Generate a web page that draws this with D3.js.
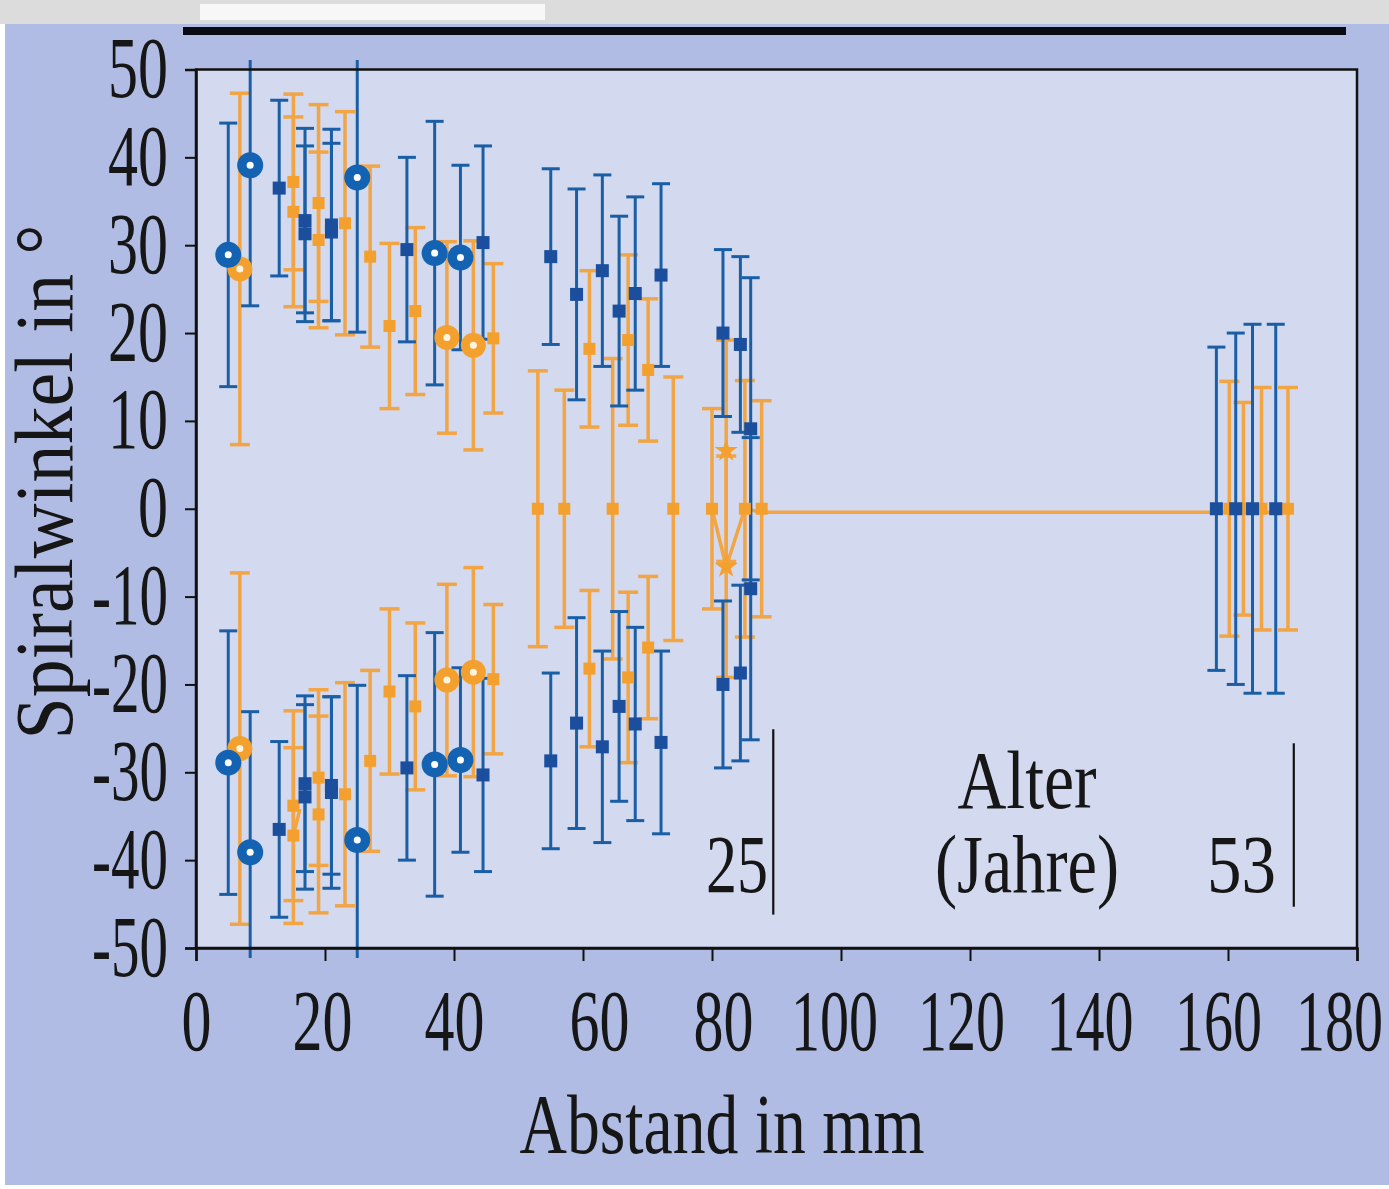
<!DOCTYPE html>
<html><head><meta charset="utf-8">
<script src="https://cdn.jsdelivr.net/npm/d3@7"></script>
<style>html,body{margin:0;padding:0;background:#fff;}svg{display:block;}</style>
</head><body>
<script>
// ---------- DATA (x in mm, y in degrees, err = half error bar) ----------
const blueCircles = [
  [5.0, 28.9, 15], [8.4, 39.1, 16], [25.0, 37.7, 17.6], [37.0, 29.1, 15], [41.0, 28.6, 10.5],
  [5.0, -28.9, 15], [8.4, -39.1, 16], [25.0, -37.7, 17.6], [37.0, -29.1, 15], [41.0, -28.6, 10.5]
];
const orangeCircles = [
  [6.8, 27.3, 20], [38.9, 19.5, 10.9], [43.0, 18.6, 11.9],
  [6.8, -27.3, 20], [38.9, -19.5, 10.9], [43.0, -18.6, 11.9]
];
const blueSquares = [
  [12.9, 36.5, 10], [16.9, 32.8, 10.5], [16.9, 31.3, 10], [21.0, 32.3, 10.9], [21.0, 31.5, 10.1],
  [32.7, 29.5, 10.5], [44.5, 30.3, 11], [55.0, 28.7, 10], [59.0, 24.4, 12], [63.0, 27.1, 10.9],
  [65.6, 22.5, 10.8], [68.1, 24.5, 11], [72.1, 26.6, 10.4], [81.7, 20.0, 9.5], [84.4, 18.7, 10],
  [86.0, 9.1, 17.2],
  [12.9, -36.5, 10], [16.9, -32.8, 10.5], [16.9, -31.3, 10], [21.0, -32.3, 10.9], [21.0, -31.5, 10.1],
  [32.7, -29.5, 10.5], [44.5, -30.3, 11], [55.0, -28.7, 10], [59.0, -24.4, 12], [63.0, -27.1, 10.9],
  [65.6, -22.5, 10.8], [68.1, -24.5, 11], [72.1, -26.6, 10.4], [81.7, -20.0, 9.5], [84.4, -18.7, 10],
  [86.0, -9.1, 17.2],
  [158.2, 0, 18.4], [161.2, 0, 20], [163.8, 0, 21], [167.4, 0, 21]
];
const orangeSquares = [
  [15.1, 37.2, 10], [15.1, 33.8, 10.8], [19.0, 34.8, 11.2], [19.0, 30.6, 10], [23.1, 32.5, 12.7],
  [27.0, 28.7, 10.3], [30.0, 20.8, 9.4], [34.0, 22.5, 9.5], [46.1, 19.4, 8.5], [61.0, 18.2, 8.9],
  [67.0, 19.2, 9.7], [70.1, 15.8, 8.1],
  [15.1, -37.2, 10], [15.1, -33.8, 10.8], [19.0, -34.8, 11.2], [19.0, -30.6, 10], [23.1, -32.5, 12.7],
  [27.0, -28.7, 10.3], [30.0, -20.8, 9.4], [34.0, -22.5, 9.5], [46.1, -19.4, 8.5], [61.0, -18.2, 8.9],
  [67.0, -19.2, 9.7], [70.1, -15.8, 8.1],
  [53.0, 0, 15.7], [57.1, 0, 13.5], [64.6, 0, 17.1], [74.0, 0, 15], [80.0, 0, 11.4],
  [85.1, 0, 14.6], [87.7, 0, 12.3],
  [160.2, 0, 14.5], [162.4, 0, 12.1], [165.2, 0, 13.8], [169.3, 0, 13.8]
];
const orangeStars = [[82.2, 6.6, 12.6], [82.2, -6.6, 12.6]];
const orangeLineX = [80.0, 82.2, 85.1, 87.7, 169.3];
const orangeLineY = [0, -6.6, 0, -0.4, -0.4];
const orangeLine2X = [15.1, 16.1];
const orangeLine2Y = [-37.2, -34.2];

const xTicks = [0, 20, 40, 60, 80, 100, 120, 140, 160, 180];
const yTicks = [-50, -40, -30, -20, -10, 0, 10, 20, 30, 40, 50];
const xTickLabels = ["0", "20", "40", "60", "80", "100", "120", "140", "160", "180"];
const yTickLabels = ["-50", "-40", "-30", "-20", "-10", "0", "10", "20", "30", "40", "50"];

const xTitle = "Abstand in mm";
const yTitle = "Spiralwinkel in °";
// age markers: [x mm, y top, y bottom, label]
const ageMarks = [[89.5, -25.1, -46.2, "25"], [170.2, -26.7, -45.3, "53"]];
const ageTitle = ["Alter", "(Jahre)"];

// ---------- LAYOUT ----------
const W = 1389, H = 1189;
const L = 196, R = 1357, T = 69.5, B = 948;
const FONT = "'Liberation Serif', 'Times New Roman', serif";
const C = {
  outer: "#b0bce3", plot: "#d3d9ef", blue: "#1463b2", blueSq: "#1b4f9e", blueBar: "#1a5ea6",
  orange: "#f4a02e", orangeBar: "#f2a544", text: "#161616"
};
// horizontal nudges of the x tick labels, as set in the original figure
const xLabelNudge = [0, -3, 0, 16, 11, -7, -9, -9.5, -10, -18];

const x = d3.scaleLinear().domain([0, 180]).range([L, R]);
const y = d3.scaleLinear().domain([-50, 50]).range([B, T]);

const svg = d3.select("body").append("svg").attr("width", W).attr("height", H);

// background / frame decoration
svg.append("rect").attr("width", W).attr("height", H).attr("fill", "#ffffff");
svg.append("rect").attr("x", 5).attr("y", 24).attr("width", W - 5).attr("height", H - 28).attr("fill", C.outer);
svg.append("rect").attr("x", 0).attr("y", 0).attr("width", W).attr("height", 24).attr("fill", "#dcdcdc");
svg.append("rect").attr("x", 200).attr("y", 4).attr("width", 345).attr("height", 16).attr("fill", "#f7f7f7");
svg.append("rect").attr("x", 183).attr("y", 27).attr("width", 1163).attr("height", 8).attr("fill", "#0a0a12");
svg.append("rect").attr("x", L).attr("y", T).attr("width", R - L).attr("height", B - T).attr("fill", C.plot);

svg.append("defs").append("clipPath").attr("id", "clip")
  .append("rect").attr("x", L).attr("y", 60).attr("width", R - L).attr("height", 898);
const g = svg.append("g").attr("clip-path", "url(#clip)");

// lines
const line = d3.line().x(d => x(d[0])).y(d => y(d[1]));
g.append("path").datum(orangeLineX.map((v, i) => [v, orangeLineY[i]]))
  .attr("d", line).attr("fill", "none").attr("stroke", C.orangeBar).attr("stroke-width", 3.5);
g.append("path").datum(orangeLine2X.map((v, i) => [v, orangeLine2Y[i]]))
  .attr("d", line).attr("fill", "none").attr("stroke", C.orangeBar).attr("stroke-width", 3.5);

function errorBars(data, color, cap, width) {
  const eb = g.append("g").attr("stroke", color).attr("stroke-width", width);
  data.forEach(d => {
    eb.append("line").attr("x1", x(d[0])).attr("x2", x(d[0]))
      .attr("y1", y(d[1] - d[2])).attr("y2", y(d[1] + d[2]));
    [d[1] - d[2], d[1] + d[2]].forEach(v => {
      eb.append("line").attr("x1", x(d[0]) - cap / 2).attr("x2", x(d[0]) + cap / 2)
        .attr("y1", y(v)).attr("y2", y(v));
    });
  });
}
errorBars(orangeSquares, C.orangeBar, 20, 3.5);
errorBars(orangeCircles, C.orangeBar, 20, 3.5);
errorBars(orangeStars, C.orangeBar, 20, 3.5);
errorBars(blueSquares, C.blueBar, 18, 3);
errorBars(blueCircles, C.blueBar, 18, 3);

// markers
g.selectAll(".osq").data(orangeSquares).join("rect")
  .attr("x", d => x(d[0]) - 6).attr("y", d => y(d[1]) - 6).attr("width", 12).attr("height", 12)
  .attr("fill", C.orange);
g.selectAll(".ost").data(orangeStars).join("path")
  .attr("transform", d => `translate(${x(d[0])},${y(d[1])})`)
  .attr("d", d3.symbol().type(d3.symbolStar).size(170)).attr("fill", C.orange);
g.selectAll(".oc").data(orangeCircles).join("circle")
  .attr("cx", d => x(d[0])).attr("cy", d => y(d[1])).attr("r", 12.5).attr("fill", C.orange);
g.selectAll(".oci").data(orangeCircles).join("circle")
  .attr("cx", d => x(d[0])).attr("cy", d => y(d[1])).attr("r", 3.5).attr("fill", "#fff4e0");
g.selectAll(".bsq").data(blueSquares).join("rect")
  .attr("x", d => x(d[0]) - 6.5).attr("y", d => y(d[1]) - 6.5).attr("width", 13).attr("height", 13)
  .attr("fill", C.blueSq);
g.selectAll(".bc").data(blueCircles).join("circle")
  .attr("cx", d => x(d[0])).attr("cy", d => y(d[1])).attr("r", 13).attr("fill", C.blue);
g.selectAll(".bci").data(blueCircles).join("circle")
  .attr("cx", d => x(d[0])).attr("cy", d => y(d[1])).attr("r", 3.5).attr("fill", "#ffffff");

// frame
svg.append("rect").attr("x", L).attr("y", T).attr("width", R - L).attr("height", B - T)
  .attr("fill", "none").attr("stroke", "#111").attr("stroke-width", 2.5);

// axes
const xAxis = svg.append("g").attr("transform", `translate(0,${B})`)
  .call(d3.axisBottom(x).tickValues(xTicks).tickSize(13).tickFormat((d, i) => xTickLabels[i]));
const yAxis = svg.append("g").attr("transform", `translate(${L},0)`)
  .call(d3.axisLeft(y).tickValues(yTicks).tickSize(11).tickFormat((d, i) => yTickLabels[i]));
[xAxis, yAxis].forEach(a => {
  a.select(".domain").attr("stroke", "#111").attr("stroke-width", 2.5);
  a.selectAll(".tick line").attr("stroke", "#111").attr("stroke-width", 2);
  a.selectAll("text").attr("font-family", FONT).attr("font-size", 86).attr("fill", C.text)
    .attr("lengthAdjust", "spacingAndGlyphs");
});
const lenFor = s => {
  const digits = s.replace("-", "");
  return (digits.length === 3 ? 87 : digits.length * 30) + (s.startsWith("-") ? 16 : 0);
};
xAxis.selectAll(".tick text").attr("dy", null).attr("y", 102)
  .attr("x", (d, i) => xLabelNudge[i])
  .attr("textLength", function () { return lenFor(this.textContent); });
yAxis.selectAll("text").attr("dy", null).attr("y", 27).attr("x", -28)
  .attr("textLength", function () { return lenFor(this.textContent); });

// titles
function label(txt, px, py, len, size, anchor, rot) {
  const t = svg.append("text").text(txt).attr("font-family", FONT).attr("font-size", size)
    .attr("fill", C.text).attr("text-anchor", anchor)
    .attr("textLength", len).attr("lengthAdjust", "spacingAndGlyphs");
  if (rot) t.attr("transform", `translate(${px},${py}) rotate(${rot})`);
  else t.attr("x", px).attr("y", py);
  return t;
}
label(xTitle, 722, 1153, 405, 85, "middle");
label(yTitle, 72, 482, 515, 82, "middle", -90);

// age annotations
ageMarks.forEach(d => {
  svg.append("line").attr("x1", x(d[0])).attr("x2", x(d[0])).attr("y1", y(d[1])).attr("y2", y(d[2]))
    .attr("stroke", "#111").attr("stroke-width", 2.2);
});
label(ageMarks[0][3], 706, 892, 62, 83, "start");
label(ageMarks[1][3], 1207, 892, 69, 83, "start");
label(ageTitle[0], 1027, 808, 139, 83, "middle");
label(ageTitle[1], 1027, 892, 184, 83, "middle");
</script>
</body></html>
